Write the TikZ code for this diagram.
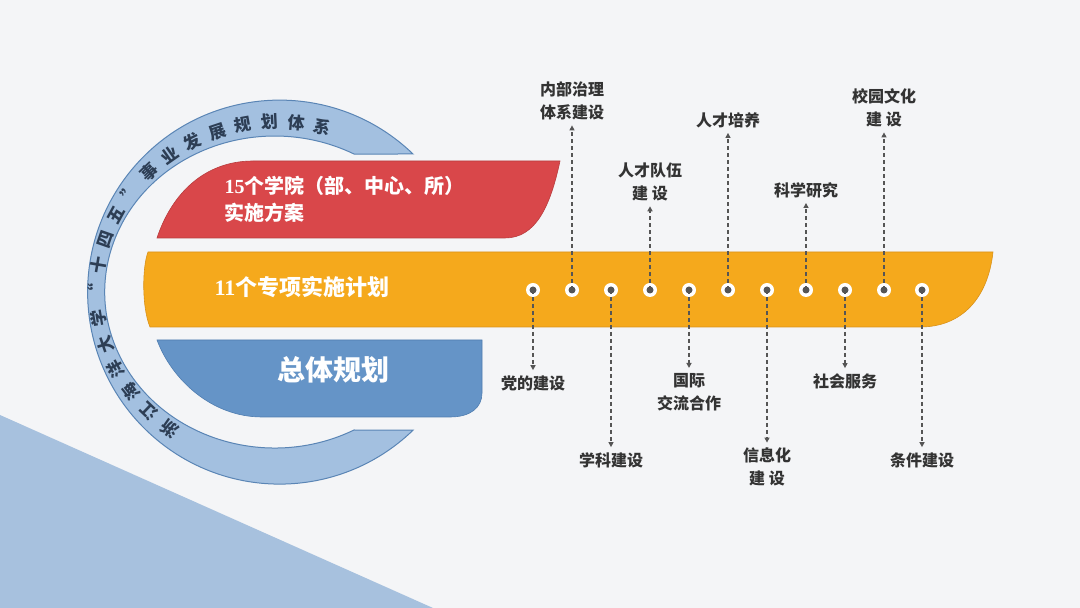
\documentclass[tikz,border=0pt]{standalone}
\usepackage{fontspec}
\newfontfamily\cjk{Noto Sans CJK SC}
\newfontfamily\ser{Liberation Serif}
\usetikzlibrary{decorations.text,arrows.meta}
\definecolor{bg}{HTML}{F4F5F7}
\definecolor{tri}{HTML}{A7C1DE}
\definecolor{ringf}{HTML}{A3C0E0}
\definecolor{ringe}{HTML}{5A85B5}
\definecolor{ringt}{HTML}{2D3E55}
\definecolor{redf}{HTML}{D9474A}
\definecolor{rede}{HTML}{B83C3E}
\definecolor{orf}{HTML}{F5A91C}
\definecolor{ore}{HTML}{D9921A}
\definecolor{bluf}{HTML}{6594C7}
\definecolor{blue}{HTML}{4F7DB0}
\definecolor{txt}{HTML}{333333}
\definecolor{ln}{HTML}{555555}
\begin{document}
\begin{tikzpicture}[x=1pt,y=1pt,
  lab/.style={font=\cjk\bfseries\fontsize{16}{23}\selectfont, text=txt, align=center, inner sep=2pt},
  conn/.style={draw=ln, line width=1.3pt, dash pattern=on 4pt off 3pt, -{Triangle[length=5pt,width=5pt]}, shorten >=3pt},
  dotw/.style={circle, fill=white, minimum size=14pt, inner sep=0pt},
  dotd/.style={circle, fill=ln, minimum size=7pt, inner sep=0pt}]
\useasboundingbox (0,0) rectangle (1080,608);
\fill[bg] (0,0) rectangle (1080,608);
\fill[tri] (0,193) -- (433,0) -- (0,0) -- cycle;
% ring
\draw[fill=ringf, draw=ringe, line width=1pt]
  (413,454) arc[start angle=46,end angle=314,radius=192]
  -- (354,178) arc[start angle=-62.2,end angle=-297.8,x radius=170,y radius=156] -- cycle;
\path[decorate, decoration={text along path, text align={fit to path}, raise=0pt,
  text={|\cjk\bfseries\fontsize{17}{17}\selectfont\color{ringt}|浙江海洋大学“十四五”事业发展规划体系}}]
  (278,316) ++(236:{175} and {164}) arc[start angle=236,end angle=73,x radius=175,y radius=164];
% red
\draw[fill=redf, draw=rede, line width=0.6pt] (157,370) .. controls (172,415) and (205,447) .. (253,447) -- (560,447)
  .. controls (550,400) and (535,370) .. (505,370) -- cycle;
\node[anchor=west, text=white, align=left, font=\cjk\bfseries\fontsize{20}{27}\selectfont] (red) at (221,409)
  {{\ser\bfseries 15}个学院（部、中心、所）\\实施方案};
% orange
\draw[fill=orf, draw=ore, line width=0.6pt] (148,356) -- (993,356) .. controls (988,310) and (962,281) .. (920,281)
  -- (150,281) .. controls (142,300) and (142,340) .. cycle;
\node[anchor=west, text=white, font=\cjk\bfseries\fontsize{22}{22}\selectfont] (orn) at (211,321) {{\ser\bfseries 11}个专项实施计划};
% blue
\draw[fill=bluf, draw=blue, line width=0.6pt] (157,268) -- (482,268) -- (482,215) .. controls (482,200) and (470,191) .. (450,191)
  -- (262,191) .. controls (212,191) and (172,228) .. cycle;
\node[text=white, font=\cjk\bfseries\fontsize{28}{28}\selectfont] (blu) at (333,238) {总体规划};
% dots
\foreach \i/\x in {1/533,2/572,3/611,4/650,5/689,6/728,7/767,8/806,9/845,10/884,11/922}{
  \node[dotw] (w\i) at (\x,318) {};
}
% labels up
\node[lab] (u2) at (572,507) {内部治理\\体系建设};
\node[lab] (u4) at (650,426) {人才队伍\\建 设};
\node[lab] (u6) at (728,488) {人才培养};
\node[lab] (u8) at (806,418) {科学研究};
\node[lab] (u10) at (884,500) {校园文化\\建 设};
% labels down
\node[lab] (d1) at (533,225) {党的建设};
\node[lab] (d3) at (611,148) {学科建设};
\node[lab] (d5) at (689,216) {国际\\交流合作};
\node[lab] (d7) at (767,141) {信息化\\建 设};
\node[lab] (d9) at (845,227) {社会服务};
\node[lab] (d11) at (922,148) {条件建设};
\foreach \i in {2,4,6,8,10}{ \draw[conn] (w\i.center) -- (u\i.south); }
\foreach \i in {1,3,5,7,9,11}{ \draw[conn] (w\i.center) -- (d\i.north); }
\foreach \i in {1,...,11}{ \node[dotd] at (w\i) {}; }
\end{tikzpicture}
\end{document}
